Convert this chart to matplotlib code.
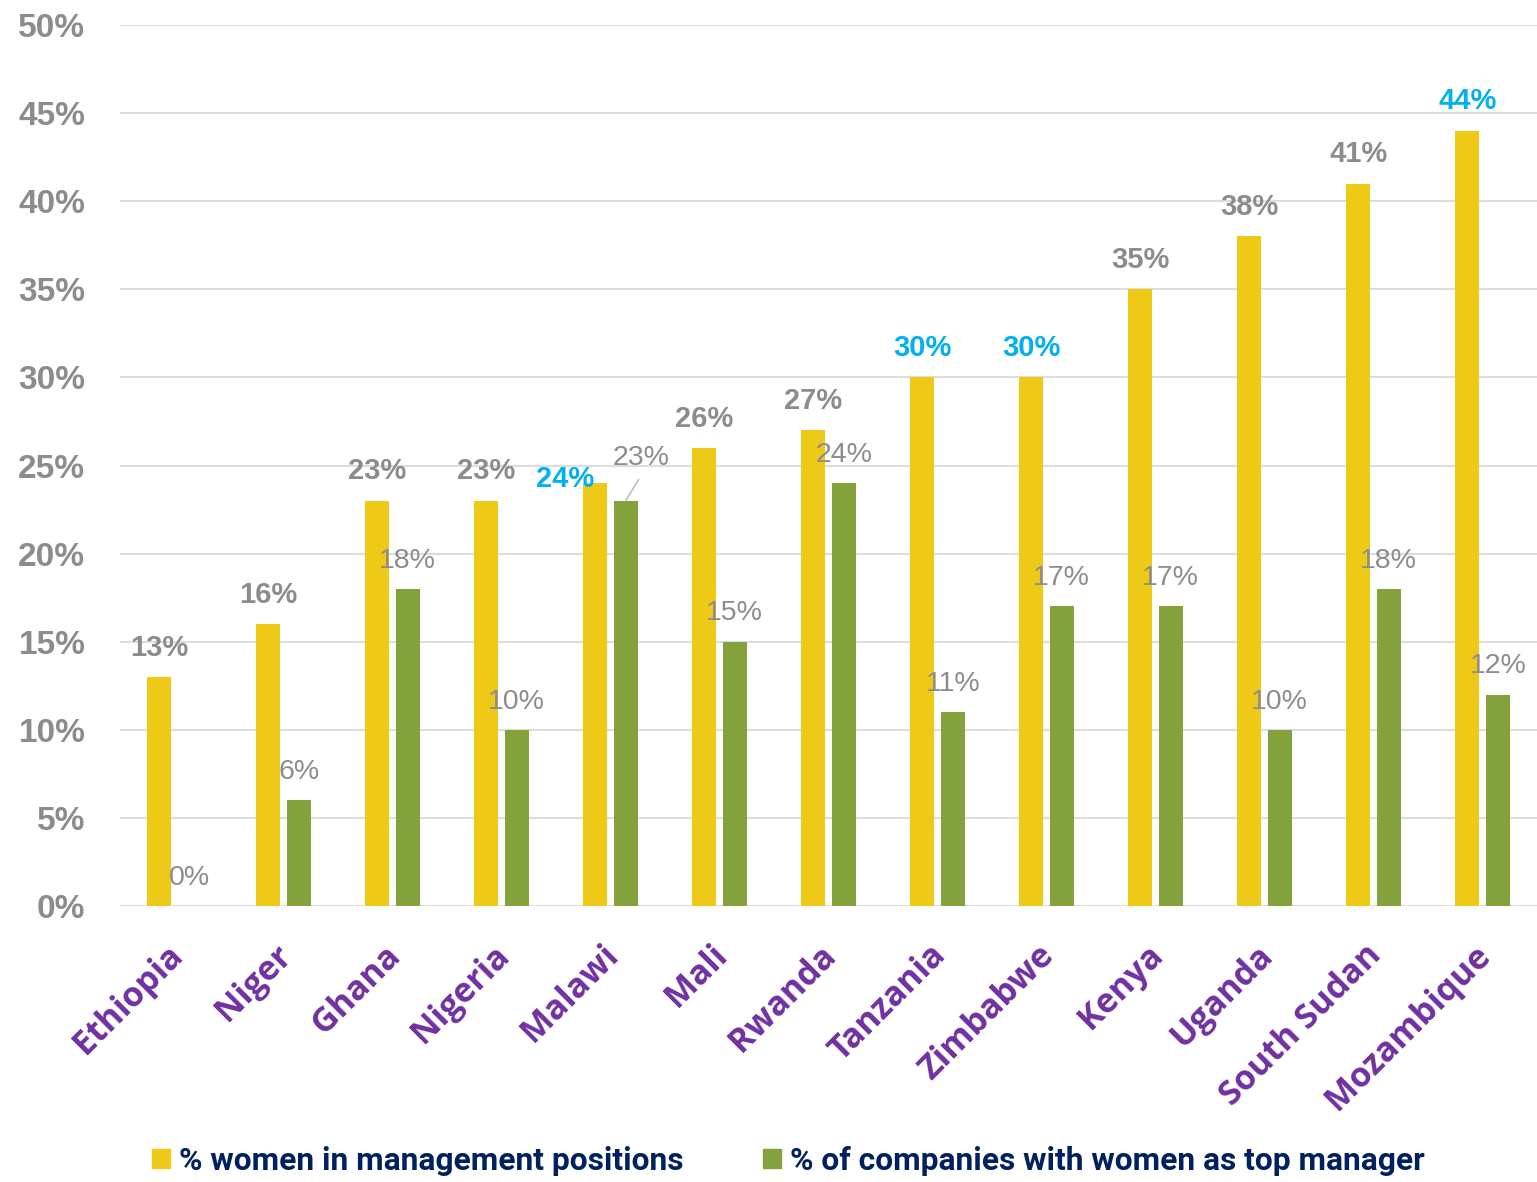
import numpy as np
import matplotlib.pyplot as plt
from matplotlib.patches import Patch

# data
countries = ["Ethiopia", "Niger", "Ghana", "Nigeria", "Malawi", "Mali", "Rwanda",
             "Tanzania", "Zimbabwe", "Kenya", "Uganda", "South Sudan", "Mozambique"]
women_mgmt = [13, 16, 23, 23, 24, 26, 27, 30, 30, 35, 38, 41, 44]
women_top = [0, 6, 18, 10, 23, 15, 24, 11, 17, 17, 10, 18, 12]
highlight = ["Malawi", "Tanzania", "Zimbabwe", "Mozambique"]
yticks = [0, 5, 10, 15, 20, 25, 30, 35, 40, 45, 50]

yellow = "#EFC917"
green = "#84A23B"
grey = "#8C8C8C"
blue = "#00B0F0"
purple = "#7030A0"
navy = "#002060"

plt.rcParams['font.family'] = ['Liberation Sans', 'DejaVu Sans']

fig = plt.figure(figsize=(15.37, 11.82), dpi=100)
ax = fig.add_axes([120/1537, 1-906/1182, 1-120/1537, (906-25)/1182])

x = np.arange(len(countries))
w = 0.22
off = 0.14
ax.bar(x - off, women_mgmt, w, color=yellow, zorder=3)
ax.bar(x + off, women_top, w, color=green, zorder=3)

ax.set_xlim(-0.5, len(countries) - 0.5)
ax.set_ylim(0, 50)
ax.set_yticks(yticks)
ax.set_yticklabels([f"{t}%" for t in yticks], fontsize=24, fontweight='bold', color=grey)
ax.tick_params(axis='y', length=0, pad=25)
ax.grid(axis='y', color='#DDDDDD', lw=1.5, zorder=0)
for s in ax.spines.values():
    s.set_visible(False)

ax.set_xticks(x)
ax.set_xticklabels([])
ax.tick_params(axis='x', length=0)
# rotated category names
for i, c in enumerate(countries):
    ax.annotate(c, (x[i], 0), xycoords=('data', 'axes fraction'), xytext=(2, -32),
                textcoords='offset points', rotation=45, ha='right', va='center',
                rotation_mode='anchor', fontsize=24.5, fontweight='bold', color=purple,
                family=['Open Sans', 'DejaVu Sans'])

# value labels
for i, (c, v) in enumerate(zip(countries, women_mgmt)):
    col = blue if c in highlight else grey
    if c == "Malawi":
        ax.annotate(f"{v}%", (x[i] - off, v), xytext=(-22, 3), textcoords='offset points',
                    ha='center', va='center', fontsize=21, fontweight='bold', color=col)
    else:
        ax.annotate(f"{v}%", (x[i] - off, v), xytext=(0, 11), textcoords='offset points',
                    ha='center', va='bottom', fontsize=21, fontweight='bold', color=col)

for i, (c, v) in enumerate(zip(countries, women_top)):
    if c == "Malawi":
        ax.annotate(f"{v}%", (x[i] + off, v), xytext=(11, 31), textcoords='offset points',
                    ha='center', va='center', fontsize=20.5, color=grey,
                    arrowprops=dict(arrowstyle='-', color='#BFBFBF', lw=1.2, shrinkA=5, shrinkB=0,
                                    relpos=(0.55, 0.0)))
    else:
        ax.annotate(f"{v}%", (x[i] + off, v), xytext=(0, 11), textcoords='offset points',
                    ha='center', va='bottom', fontsize=20.5, color=grey)

# legend
handles = [Patch(color=yellow, label="% women in management positions"),
           Patch(color=green, label="% of companies with women as top manager")]
leg = fig.legend(handles=handles, loc='center', bbox_to_anchor=(0.513, 1-1161/1182), ncol=2,
                 frameon=False, handlelength=0.55, handleheight=0.55, handletextpad=0.3,
                 columnspacing=2.5, prop=dict(family=['Roboto', 'DejaVu Sans'],
                                                weight='bold', size=22.9))
for t in leg.get_texts():
    t.set_color(navy)

fig.savefig("out.png", dpi=100)
